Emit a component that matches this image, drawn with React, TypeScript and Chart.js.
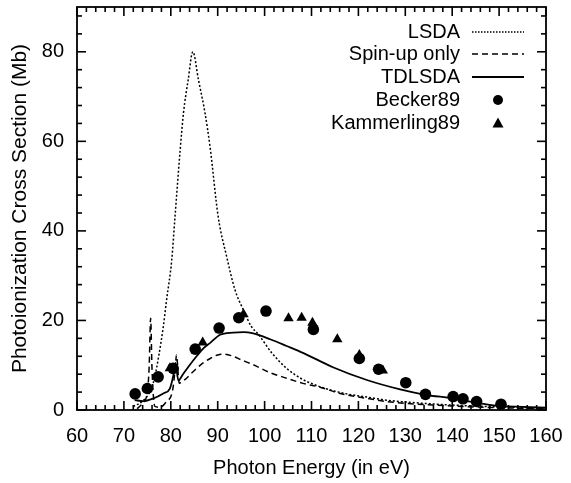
import React, { useEffect, useRef } from 'react';
import { Chart, registerables } from 'chart.js';

Chart.register(...registerables);

const FONT = '"Liberation Sans", Arial, Helvetica, sans-serif';

// Axis ticks / labels
const xTickLabels = [60, 70, 80, 90, 100, 110, 120, 130, 140, 150, 160];
const yTickLabels = [0, 20, 40, 60, 80];
const X_MIN = 60;
const X_MAX = 160;
const Y_MIN = 0;
const Y_MAX = 90;
const X_MINOR = 2;
const Y_MINOR = 4;

// LSDA (dotted)
const lsdaX = [72.0, 74.0, 75.5, 76.5, 77.5, 78.4, 79.1, 80.2, 80.9, 82.0, 82.7, 83.7, 84.7, 85.9, 87.3, 88.4, 90.1, 91.9, 93.7, 95.5, 97.2, 98.6, 101.5, 104.7, 108.0, 111.8, 115.0, 118.0, 121.8, 126.0, 130.0, 135.0, 140.0, 150.0, 160.0];
const lsdaY = [0.8, 2.0, 4.0, 7.0, 12.5, 18.6, 24.6, 33.5, 43.2, 58.1, 66.3, 73.7, 80.0, 73.7, 66.3, 58.5, 43.2, 34.3, 26.8, 22.3, 18.6, 17.0, 12.8, 9.3, 6.9, 5.2, 4.2, 3.5, 2.9, 2.2, 1.8, 1.4, 1.1, 0.7, 0.4];

// Spin-up only (dashed)
const spinX = [72.8, 74.0, 75.0, 75.4, 75.7, 76.0, 76.6, 77.7, 79.0, 80.4, 81.0, 81.2, 81.8, 83.0, 84.8, 86.5, 88.4, 90.0, 91.2, 93.3, 95.0, 97.6, 101.0, 104.7, 108.0, 111.8, 116.1, 121.8, 126.0, 130.0, 140.0, 150.0, 160.0];
const spinY = [0.3, 1.5, 4.0, 10.0, 20.5, 9.0, 0.8, 0.6, 1.8, 4.5, 10.0, 12.3, 6.0, 6.8, 8.6, 10.2, 11.5, 12.3, 12.5, 12.0, 11.2, 10.1, 8.4, 7.1, 6.0, 5.1, 3.7, 2.6, 1.9, 1.5, 0.9, 0.5, 0.3];

// TDLSDA (solid)
const tdX = [72.3, 74.1, 76.3, 78.4, 79.8, 80.6, 81.0, 81.6, 82.6, 84.0, 85.5, 87.0, 88.4, 90.5, 93.3, 95.5, 97.6, 101.2, 104.7, 108.3, 114.7, 121.8, 128.9, 134.3, 140.2, 145.2, 150.2, 155.0, 160.0];
const tdY = [2.2, 2.0, 2.6, 3.7, 4.8, 8.0, 10.5, 6.6, 8.0, 10.0, 12.0, 13.8, 15.0, 16.8, 17.3, 17.4, 17.1, 15.8, 14.3, 12.7, 9.5, 6.7, 4.6, 3.4, 2.6, 1.6, 0.9, 0.7, 0.5];

// Becker89 (circles)
const beckerX = [72.4, 75.0, 77.3, 80.5, 85.2, 90.3, 94.5, 100.3, 110.4, 120.2, 124.3, 130.1, 134.3, 140.2, 142.3, 145.2, 150.4];
const beckerY = [3.6, 4.8, 7.4, 9.3, 13.6, 18.3, 20.6, 22.1, 18.0, 11.5, 9.1, 6.1, 3.5, 3.0, 2.5, 1.9, 1.3];

// Kammerling89 (triangles)
const kamX = [79.8, 86.8, 95.5, 105.1, 107.9, 110.2, 115.5, 120.2, 125.2];
const kamY = [9.3, 15.1, 21.4, 20.5, 20.6, 19.5, 15.8, 12.3, 8.8];

const seriesLabels = ['LSDA', 'Spin-up only', 'TDLSDA', 'Becker89', 'Kammerling89'];

const pts = (xs: number[], ys: number[]) => xs.map((x, i) => ({ x, y: ys[i] }));

const overlayPlugin = {
  id: 'overlay',
  afterDraw(chart: any) {
    const ctx: CanvasRenderingContext2D = chart.ctx;
    const a = chart.chartArea;
    const xs = chart.scales.x;
    const ys = chart.scales.y;
    ctx.save();
    ctx.globalAlpha = 1;
    ctx.setLineDash([]);
    ctx.strokeStyle = '#000';
    ctx.fillStyle = '#000';
    ctx.lineWidth = 1.6;
    const seg = (x1: number, y1: number, x2: number, y2: number) => {
      ctx.beginPath();
      ctx.moveTo(x1, y1);
      ctx.lineTo(x2, y2);
      ctx.stroke();
    };
    // inward ticks on all four sides
    for (let v = X_MIN; v <= X_MAX + 1e-9; v += X_MINOR) {
      const px = xs.getPixelForValue(v);
      const len = xTickLabels.indexOf(v) >= 0 ? 9 : 5;
      seg(px, a.bottom, px, a.bottom - len);
      seg(px, a.top, px, a.top + len);
    }
    for (let v = Y_MIN; v <= Y_MAX + 1e-9; v += Y_MINOR) {
      const py = ys.getPixelForValue(v);
      const len = yTickLabels.indexOf(v) >= 0 ? 9 : 5;
      seg(a.left, py, a.left + len, py);
      seg(a.right, py, a.right - len, py);
    }
    ctx.lineWidth = 1.8;
    ctx.strokeRect(a.left, a.top, a.right - a.left, a.bottom - a.top);

    // key (legend) inside the plot, top right
    const textRight = a.right - 86;
    const s0 = a.right - 74;
    const s1 = a.right - 22;
    const rows = [32, 54, 77, 100, 123];
    ctx.font = `20px ${FONT}`;
    ctx.textAlign = 'right';
    ctx.textBaseline = 'middle';
    seriesLabels.forEach((lab, i) => {
      ctx.fillText(lab, textRight, rows[i]);
    });
    const drawSample = (y: number, dash: number[], w: number) => {
      ctx.save();
      ctx.setLineDash(dash);
      ctx.lineWidth = w;
      ctx.beginPath();
      ctx.moveTo(s0, y);
      ctx.lineTo(s1, y);
      ctx.stroke();
      ctx.restore();
    };
    drawSample(rows[0], [1.5, 1.5], 1.4);
    drawSample(rows[1], [6, 4], 1.5);
    drawSample(rows[2], [], 1.8);
    const cx = (s0 + s1) / 2;
    ctx.beginPath();
    ctx.arc(cx, rows[3], 5, 0, Math.PI * 2);
    ctx.fill();
    ctx.beginPath();
    ctx.moveTo(cx, rows[4] - 5.5);
    ctx.lineTo(cx + 5.5, rows[4] + 4.5);
    ctx.lineTo(cx - 5.5, rows[4] + 4.5);
    ctx.closePath();
    ctx.fill();
    ctx.restore();
  },
};

export default function App() {
  const ref = useRef<HTMLCanvasElement | null>(null);
  useEffect(() => {
    document.body.style.margin = '0';
    const canvas = ref.current;
    if (!canvas) return;
    const chart = new Chart(canvas, {
      type: 'scatter',
      data: {
        datasets: [
          {
            label: seriesLabels[3],
            data: pts(beckerX, beckerY),
            showLine: false,
            pointStyle: 'circle',
            pointRadius: 5.8,
            backgroundColor: '#000',
            borderColor: '#000',
            borderWidth: 0,
          },
          {
            label: seriesLabels[4],
            data: pts(kamX, kamY),
            showLine: false,
            pointStyle: 'triangle',
            pointRadius: 6,
            backgroundColor: '#000',
            borderColor: '#000',
            borderWidth: 0,
          },
          {
            label: seriesLabels[2],
            data: pts(tdX, tdY),
            showLine: true,
            pointRadius: 0,
            borderColor: '#000',
            borderWidth: 1.8,
            cubicInterpolationMode: 'monotone',
          },
          {
            label: seriesLabels[1],
            data: pts(spinX, spinY),
            showLine: true,
            pointRadius: 0,
            borderColor: '#000',
            borderWidth: 1.5,
            borderDash: [6, 4],
            cubicInterpolationMode: 'monotone',
          },
          {
            label: seriesLabels[0],
            data: pts(lsdaX, lsdaY),
            showLine: true,
            pointRadius: 0,
            borderColor: '#000',
            borderWidth: 1.5,
            borderDash: [2, 2],
            cubicInterpolationMode: 'monotone',
          },
        ],
      } as any,
      options: {
        responsive: false,
        maintainAspectRatio: false,
        animation: false,
        devicePixelRatio: 1,
        layout: { padding: { top: 7, right: 25, left: 0, bottom: 0 } },
        plugins: {
          legend: { display: false },
          tooltip: { enabled: false },
        },
        scales: {
          x: {
            type: 'linear',
            min: X_MIN,
            max: X_MAX,
            grid: { display: false, drawTicks: false, tickLength: 0 },
            border: { display: false },
            afterBuildTicks: (s: any) => {
              s.ticks = xTickLabels.map((v) => ({ value: v }));
            },
            afterFit: (s: any) => {
              s.height = 73;
              s.paddingLeft = 0;
              s.paddingRight = 0;
            },
            ticks: {
              color: '#000',
              font: { family: FONT, size: 20 },
              padding: 14,
              maxRotation: 0,
              autoSkip: false,
            },
            title: {
              display: true,
              text: 'Photon Energy (in eV)',
              color: '#000',
              font: { family: FONT, size: 20 },
              padding: { top: 0, bottom: 3 },
            },
          },
          y: {
            type: 'linear',
            min: Y_MIN,
            max: Y_MAX,
            grid: { display: false, drawTicks: false, tickLength: 0 },
            border: { display: false },
            afterBuildTicks: (s: any) => {
              s.ticks = yTickLabels.map((v) => ({ value: v }));
            },
            afterFit: (s: any) => {
              s.width = 77;
              s.paddingTop = 0;
              s.paddingBottom = 0;
            },
            ticks: {
              color: '#000',
              font: { family: FONT, size: 20 },
              padding: 13,
              autoSkip: false,
            },
            title: {
              display: true,
              text: 'Photoionization Cross Section (Mb)',
              color: '#000',
              font: { family: FONT, size: 21 },
              padding: { top: 8, bottom: 0 },
            },
          },
        },
      } as any,
      plugins: [overlayPlugin],
    });
    return () => chart.destroy();
  }, []);
  return (
    <div style={{ width: 571, height: 483 }}>
      <canvas ref={ref} width={571} height={483} style={{ display: 'block', width: 571, height: 483 }} />
    </div>
  );
}
